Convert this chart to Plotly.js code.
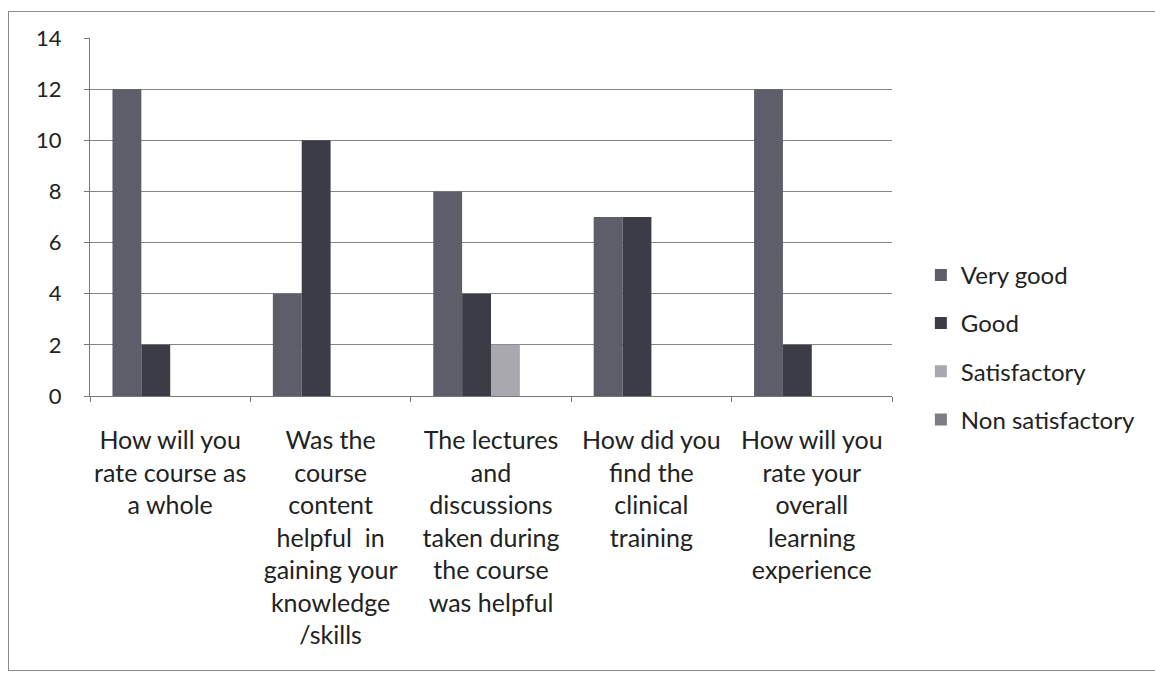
<!DOCTYPE html>
<html>
<head>
<meta charset="utf-8">
<script src="https://cdn.plot.ly/plotly-3.0.1.min.js"></script>
<style>
html,body{margin:0;padding:0;background:#fff;}
#frame{position:absolute;left:8px;top:11px;width:1160px;height:660px;border:1.5px solid #8a8a92;box-sizing:border-box;}
#chart{position:absolute;left:0;top:0;width:1155px;height:678px;}
</style>
</head>
<body>
<div id="frame"></div>
<div id="chart"></div>
<script>
const categories = [
  "How will you<br>rate course as<br>a whole",
  "Was the<br>course<br>content<br>helpful  in<br>gaining your<br>knowledge<br>/skills",
  "The lectures<br>and<br>discussions<br>taken during<br>the course<br>was helpful",
  "How did you<br>find the<br>clinical<br>training",
  "How will you<br>rate your<br>overall<br>learning<br>experience"
];
const seriesNames = ["Very good", "Good", "Satisfactory", "Non satisfactory"];
const veryGood = [12, 4, 8, 7, 12];
const good = [2, 10, 4, 7, 2];
const satisfactory = [0, 0, 2, 0, 0];
const nonSatisfactory = [0, 0, 0, 0, 0];
const yTicks = [0, 2, 4, 6, 8, 10, 12, 14];

const colors = ["#5e5e6a", "#3c3c47", "#a8a8ae", "#7c7c85"];
const values = [veryGood, good, satisfactory, nonSatisfactory];

const traces = values.map((v, i) => ({
  type: "bar",
  name: seriesNames[i],
  x: categories,
  y: v,
  legendgroup: "g" + i,
  marker: {color: colors[i], line: {width: 0}}
}));

const layout = {
  width: 1155, height: 678,
  margin: {l: 90, r: 263, t: 38, b: 282},
  paper_bgcolor: "rgba(0,0,0,0)",
  plot_bgcolor: "rgba(0,0,0,0)",
  barmode: "group",
  bargap: 0.28,
  bargroupgap: 0,
  font: {family: "Lato, 'Open Sans', sans-serif", color: "#222"},
  xaxis: {
    type: "category",
    tickson: "boundaries",
    ticks: "outside",
    ticklen: 5,
    tickcolor: "#777",
    showline: true,
    linecolor: "#777",
    linewidth: 1,
    showgrid: false,
    tickfont: {size: 25, color: "#222"},
    tickangle: 0,
    ticklabelstandoff: 22
  },
  yaxis: {
    range: [0, 14],
    tickvals: yTicks,
    ticktext: yTicks.map(String),
    ticks: "outside",
    ticklen: 5,
    tickcolor: "#777",
    showline: true,
    linecolor: "#777",
    linewidth: 1,
    showgrid: true,
    gridcolor: "#858585",
    gridwidth: 1,
    zeroline: false,
    tickfont: {size: 22, color: "#222"},
    ticklabelstandoff: 18
  },
  showlegend: true,
  legend: {
    x: 1.036, xanchor: "left",
    y: 0.40, yanchor: "top",
    traceorder: "grouped",
    tracegroupgap: 14,
    font: {size: 24, color: "#222"},
    bgcolor: "rgba(0,0,0,0)"
  }
};

Plotly.newPlot("chart", traces, layout, {displayModeBar: false, staticPlot: true});
</script>
</body>
</html>
